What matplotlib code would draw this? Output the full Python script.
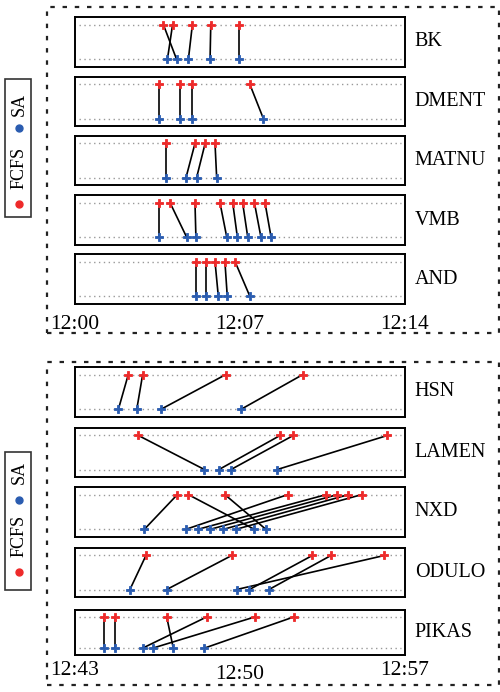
import matplotlib
matplotlib.use("Agg")
import matplotlib.pyplot as plt
from matplotlib.patches import Rectangle
from matplotlib.lines import Line2D

plt.rcParams['font.family'] = ['Liberation Serif', 'DejaVu Serif']

# minutes after the first tick of each panel; fcfs[i] is rescheduled to sa[i]
top_names = ['BK', 'DMENT', 'MATNU', 'VMB', 'AND']
top_fcfs = [[3.75, 4.14, 4.98, 5.76, 6.96],
            [3.58, 4.45, 4.95, 7.42],
            [3.86, 5.09, 5.52, 5.94],
            [3.58, 4.03, 5.09, 6.15, 6.69, 7.11, 7.61, 8.06],
            [5.13, 5.54, 5.94, 6.36, 6.79]]
top_sa = [[4.31, 3.92, 4.81, 5.73, 6.96],
          [3.58, 4.45, 4.95, 7.99],
          [3.86, 4.71, 5.16, 6.01],
          [3.58, 4.74, 5.13, 6.44, 6.89, 7.33, 7.89, 8.32],
          [5.13, 5.54, 6.08, 6.46, 7.42]]
top_ticks = ['12:00', '12:07', '12:14']

bot_names = ['HSN', 'LAMEN', 'NXD', 'ODULO', 'PIKAS']
bot_fcfs = [[2.26, 2.87, 6.39, 9.66],
            [2.69, 8.70, 9.26, 13.25],
            [4.34, 4.81, 6.36, 9.02, 10.65, 11.13, 11.60, 12.16],
            [3.01, 6.65, 10.07, 10.86, 13.12],
            [1.23, 1.70, 3.89, 5.59, 7.64, 9.29]]
bot_sa = [[1.84, 2.62, 3.64, 7.04],
          [5.49, 6.11, 6.62, 8.58],
          [2.94, 7.61, 8.10, 4.70, 5.21, 5.73, 6.29, 6.82],
          [2.33, 3.89, 7.40, 8.23, 6.86],
          [1.23, 1.70, 4.17, 2.87, 3.30, 5.49]]
bot_ticks = ['12:43', '12:50', '12:57']

W, H = 500, 692
RED = '#ee2a2a'
BLUE = '#2a5cb0'

fig = plt.figure(figsize=(W / 100, H / 100), dpi=100)


def px_axes(x0, y0, x1, y1):
    # pixel box (top-down y) -> axes
    return fig.add_axes([x0 / W, 1 - y1 / H, (x1 - x0) / W, (y1 - y0) / H])


def draw_row(ax, name, fcfs, sa):
    ax.set_xlim(0, 14)
    ax.set_ylim(-0.22, 1.22)
    for y in (0, 1):
        ax.axhline(y, xmin=0.012, xmax=0.988, color='#999999',
                   lw=1.0, linestyle=(0, (1, 2.5)), zorder=1)
    for f, s in zip(fcfs, sa):
        ax.plot([f, s], [1, 0], color='black', lw=1.2, zorder=2)
    ax.plot(fcfs, [1] * len(fcfs), 'P', color=RED, ms=6, mew=0.6, zorder=3)
    ax.plot(sa, [0] * len(sa), 'P', color=BLUE, ms=6, mew=0.6, zorder=3)
    ax.set_yticks([])
    ax.set_xticks([])
    for sp in ax.spines.values():
        sp.set_linewidth(1.4)
    ax.text(1.03, 0.5, name, transform=ax.transAxes, ha='left', va='center',
            fontsize=14.5)


def panel(rows, names, fcfs, sa, ticks, pads):
    axes = []
    for (y0, y1), n, f, s in zip(rows, names, fcfs, sa):
        ax = px_axes(75, y0, 405, y1)
        draw_row(ax, n, f, s)
        axes.append(ax)
    last = axes[-1]
    last.set_xticks([0, 7, 14])
    last.set_xticklabels(ticks, fontsize=15.5)
    last.tick_params(axis='x', length=0)
    for t, p in zip(last.xaxis.get_major_ticks(), pads):
        t.set_pad(p)


def frame(x0, y0, x1, y1):
    fig.add_artist(Rectangle((x0 / W, 1 - y1 / H), (x1 - x0) / W, (y1 - y0) / H,
                             transform=fig.transFigure, fill=False,
                             edgecolor='#222222', lw=1.6,
                             linestyle=(0, (2, 3.5))))


def legend_box(y0, y1, y_sa_dot, y_sa, y_fcfs, y_fcfs_dot):
    fig.add_artist(Rectangle((5 / W, 1 - y1 / H), 26 / W, (y1 - y0) / H,
                             transform=fig.transFigure, fill=False,
                             edgecolor='#333333', lw=1.2))
    fig.add_artist(Line2D([19 / W], [1 - y_sa_dot / H], marker='o', ms=5,
                          color=BLUE, transform=fig.transFigure))
    fig.add_artist(Line2D([19 / W], [1 - y_fcfs_dot / H], marker='o', ms=5,
                          color=RED, transform=fig.transFigure))
    fig.text(19 / W, 1 - y_sa / H, 'SA', rotation=90, ha='center', va='center',
             fontsize=13)
    fig.text(19 / W, 1 - y_fcfs / H, 'FCFS', rotation=90, ha='center',
             va='center', fontsize=13)


top_rows = [(17, 67), (77, 126), (136, 185), (195, 245), (254, 304)]
bot_rows = [(367, 417), (428, 477), (487, 537), (548, 597), (610, 655)]

panel(top_rows, top_names, top_fcfs, top_sa, top_ticks, [8, 8, 8])
panel(bot_rows, bot_names, bot_fcfs, bot_sa, bot_ticks, [4, 7, 4])

frame(47, 7, 499, 333)
frame(47, 362, 499, 685)

legend_box(79, 217, 128, 104, 168, 204)
legend_box(452, 590, 500, 472, 536, 572)

fig.savefig('out.png', dpi=100)
